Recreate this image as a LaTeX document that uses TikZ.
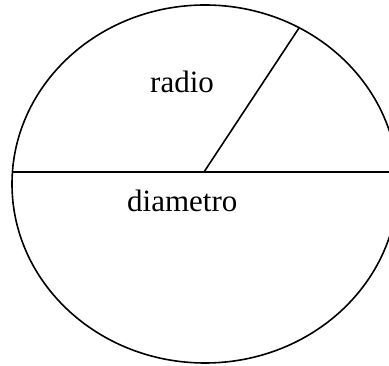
\documentclass[tikz,border=0pt]{standalone}
\usepackage{fontspec}
\setmainfont{Liberation Serif}
\begin{document}
\begin{tikzpicture}[x=1pt,y=-1pt,
  stroke/.style={line width=1.6pt, black},
  lbl/.style={font=\fontsize{31}{36}\selectfont, inner sep=0pt, anchor=base west}]
\useasboundingbox (0,0) rectangle (389,366);
\clip (0,0) rectangle (389,366);
\draw[stroke] (205,184) ellipse [x radius=193, y radius=179];
\coordinate (L) at (12.4,172);
\coordinate (R) at (397.6,172);
\coordinate (C) at (204,172);
\coordinate (P) at (299,28);
\draw[stroke] (L) -- (R);
\draw[stroke] (C) -- (P);
\node[lbl] (radio) at (150,93) {radio};
\node[lbl] (diam) at (127,212) {diametro};
\end{tikzpicture}
\end{document}
